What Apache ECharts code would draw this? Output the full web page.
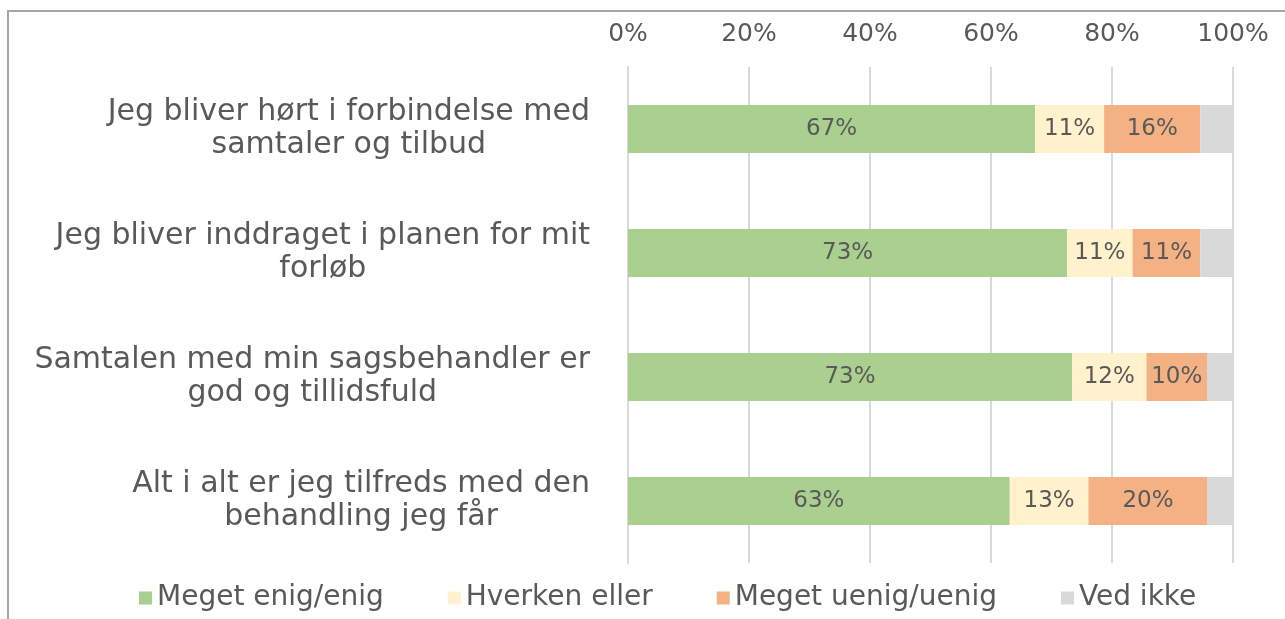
<!DOCTYPE html>
<html>
<head>
<meta charset="utf-8">
<title>Tilfredshed</title>
<script src="https://cdn.jsdelivr.net/npm/echarts@6/dist/echarts.min.js"></script>
<style>
  html, body { margin: 0; padding: 0; background: #fff; }
  #main { width: 1285px; height: 619px; }
</style>
</head>
<body>
<div id="main"></div>
<script type="text/javascript">
// data (percent of answers)
var categories = [
    'Jeg bliver hørt i forbindelse med\nsamtaler og tilbud',
    'Jeg bliver inddraget i planen for mit\nforløb',
    'Samtalen med min sagsbehandler er\ngod og tillidsfuld',
    'Alt i alt er jeg tilfreds med den\nbehandling jeg får'
];
var enig   = [67.3, 72.6, 73.4, 63.1];
var hverken = [11.4, 10.8, 12.3, 13.0];
var uenig  = [15.9, 11.2, 10.0, 19.7];
var vedIkke = [5.4, 5.4, 4.3, 4.2];
var seriesNames = ['Meget enig/enig', 'Hverken eller', 'Meget uenig/uenig', 'Ved ikke'];
var xTicks = [0, 20, 40, 60, 80, 100];

var colors = ['#a9d08e', '#fff2cc', '#f4b183', '#d9d9d9'];
var font = 'DejaVu Sans';
var textGray = '#595959';

var myChart = echarts.init(document.getElementById('main'));

function barLabel(show) {
    return {
        show: show,
        position: 'inside',
        color: textGray,
        fontFamily: font,
        fontSize: 23,
        formatter: function (p) { return Math.round(p.value) + '%'; }
    };
}

var option = {
    backgroundColor: '#fff',
    animation: false,
    color: colors,
    // frame of the chart box (only top and left visible in the picture)
    graphic: [{
        type: 'rect',
        shape: { x: 8, y: 11, width: 1400, height: 800 },
        style: { fill: 'none', stroke: '#a6a6a6', lineWidth: 2 },
        silent: true
    }],
    grid: {
        left: 628,
        right: 52,
        top: 67,
        bottom: 56
    },
    legend: {
        data: seriesNames,
        top: 579,
        left: 134,
        icon: 'rect',
        itemWidth: 13,
        itemHeight: 13,
        itemGap: 64,
        textStyle: { color: textGray, fontFamily: font, fontSize: 28 }
    },
    xAxis: {
        type: 'value',
        position: 'top',
        min: xTicks[0],
        max: xTicks[xTicks.length - 1],
        interval: xTicks[1] - xTicks[0],
        axisLine: { show: false },
        axisTick: { show: false },
        axisLabel: {
            formatter: '{value}%',
            color: textGray,
            fontFamily: font,
            fontSize: 25,
            margin: 20
        },
        splitLine: { show: true, lineStyle: { color: '#d9d9d9', width: 2 } }
    },
    yAxis: {
        type: 'category',
        inverse: true,
        data: categories,
        axisLine: { show: true, lineStyle: { color: '#d9d9d9', width: 2 } },
        axisTick: { show: false },
        axisLabel: {
            align: 'right',
            margin: 38,
            formatter: function (v) {
                return v.split('\n').map(function (s) { return '{c|' + s + '}'; }).join('\n');
            },
            rich: {
                c: {
                    align: 'center',
                    color: textGray,
                    fontFamily: font,
                    fontSize: 30,
                    lineHeight: 33
                }
            }
        }
    },
    series: [
        { name: seriesNames[0], type: 'bar', stack: 'total', barWidth: 48, data: enig, label: barLabel(true) },
        { name: seriesNames[1], type: 'bar', stack: 'total', barWidth: 48, data: hverken, label: barLabel(true) },
        { name: seriesNames[2], type: 'bar', stack: 'total', barWidth: 48, data: uenig, label: barLabel(true) },
        { name: seriesNames[3], type: 'bar', stack: 'total', barWidth: 48, data: vedIkke, label: barLabel(false) }
    ]
};

myChart.setOption(option);
</script>
</body>
</html>
